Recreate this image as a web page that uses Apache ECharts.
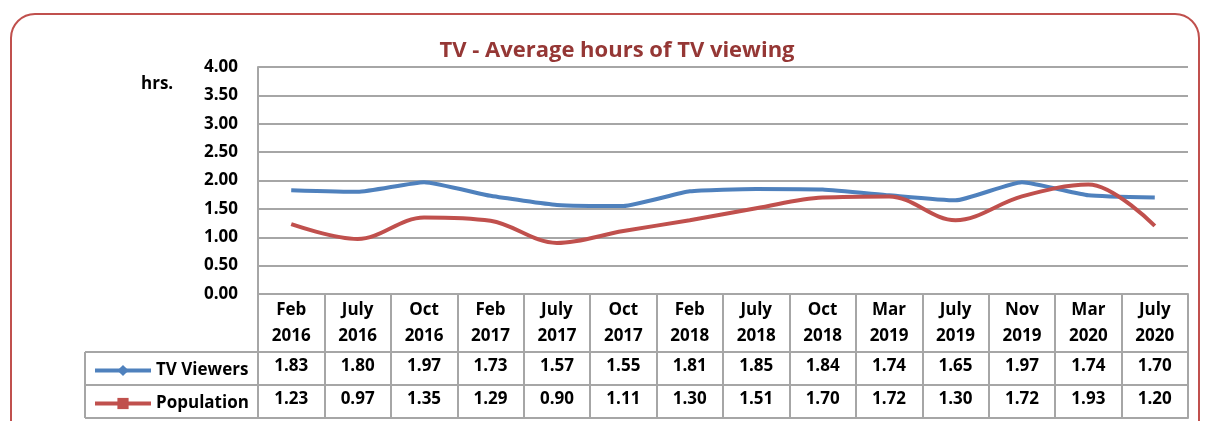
<!DOCTYPE html>
<html>
<head>
<meta charset="utf-8">
<script src="https://cdn.jsdelivr.net/npm/echarts@6/dist/echarts.min.js"></script>
<style>
  html, body { margin: 0; padding: 0; background: #fff; }
  #chart { width: 1208px; height: 421px; }
</style>
</head>
<body>
<div id="chart"></div>
<script>
// 数据
var categories = ['Feb 2016', 'July 2016', 'Oct 2016', 'Feb 2017', 'July 2017', 'Oct 2017', 'Feb 2018',
    'July 2018', 'Oct 2018', 'Mar 2019', 'July 2019', 'Nov 2019', 'Mar 2020', 'July 2020'];
var tvViewers = [1.83, 1.80, 1.97, 1.73, 1.57, 1.55, 1.81, 1.85, 1.84, 1.74, 1.65, 1.97, 1.74, 1.70];
var population = [1.23, 0.97, 1.35, 1.29, 0.90, 1.11, 1.30, 1.51, 1.70, 1.72, 1.30, 1.72, 1.93, 1.20];
var yTicks = [0, 0.5, 1, 1.5, 2, 2.5, 3, 3.5, 4];

(function () {
    var myChart = echarts.init(document.querySelector("#chart"));
    var font = '"Open Sans", Lato, sans-serif';
    var fs = 17;
    var gridColor = '#a6a6a6';
    var gl = 258, gr = 1188, gt = 67, gb = 294;
    var rowH = [58, 33, 33];

    function legendFor(name, top) {
        return {
            orient: 'horizontal',
            left: 88,
            top: top,
            itemWidth: 56,
            itemHeight: 14,
            itemGap: 4,
            lineStyle: { width: 4 },
            textStyle: { color: '#000', fontSize: fs, fontWeight: 'bold', fontFamily: font },
            data: [name]
        };
    }

    option = {
        animation: false,
        textStyle: { fontFamily: font },
        title: {
            text: 'TV - Average hours of TV viewing',
            left: 612,
            top: 35,
            textAlign: 'center',
            textStyle: { color: '#953735', fontSize: 22, fontWeight: 'bold', fontFamily: font }
        },
        legend: [
            legendFor('TV Viewers', 357),
            legendFor('Population', 390)
        ],
        grid: {
            left: gl,
            right: 1208 - gr,
            top: gt,
            bottom: 421 - gb,
            containLabel: false
        },
        xAxis: [
            {
                type: 'category',
                data: categories,
                boundaryGap: true,
                axisLine: { show: true, lineStyle: { color: gridColor, width: 2 } },
                axisTick: { show: true, length: rowH[0] + rowH[1] + rowH[2], lineStyle: { color: gridColor, width: 2 } },
                axisLabel: {
                    interval: 0,
                    margin: 3,
                    color: '#000',
                    fontSize: fs,
                    fontWeight: 'bold',
                    lineHeight: 26,
                    formatter: function (v) { return v.replace(' ', '\n'); }
                }
            },
            {
                type: 'category',
                data: categories,
                position: 'bottom',
                offset: rowH[0],
                axisLine: { show: true, lineStyle: { color: gridColor, width: 2 } },
                axisTick: { show: false },
                axisLabel: {
                    interval: 0,
                    margin: 6,
                    color: '#000',
                    fontSize: fs,
                    fontWeight: 'bold',
                    formatter: function (v, i) { return tvViewers[i].toFixed(2); }
                }
            },
            {
                type: 'category',
                data: categories,
                position: 'bottom',
                offset: rowH[0] + rowH[1],
                axisLine: { show: true, lineStyle: { color: gridColor, width: 2 } },
                axisTick: { show: false },
                axisLabel: {
                    interval: 0,
                    margin: 6,
                    color: '#000',
                    fontSize: fs,
                    fontWeight: 'bold',
                    formatter: function (v, i) { return population[i].toFixed(2); }
                }
            },
            {
                type: 'category',
                data: categories,
                position: 'bottom',
                offset: rowH[0] + rowH[1] + rowH[2],
                axisLine: { show: true, lineStyle: { color: gridColor, width: 2 } },
                axisTick: { show: false },
                axisLabel: { show: false }
            }
        ],
        yAxis: {
            type: 'value',
            min: yTicks[0],
            max: yTicks[yTicks.length - 1],
            interval: yTicks[1] - yTicks[0],
            axisLine: { show: true, lineStyle: { color: gridColor, width: 2 } },
            axisTick: { show: false },
            splitLine: { lineStyle: { color: gridColor, width: 2 } },
            axisLabel: {
                margin: 20,
                color: '#000',
                fontSize: fs,
                fontWeight: 'bold',
                formatter: function (v) { return v.toFixed(2); }
            }
        },
        series: [
            {
                name: 'TV Viewers',
                type: 'line',
                data: tvViewers,
                smooth: 0.15,
                symbol: 'diamond',
                symbolSize: 14,
                showSymbol: false,
                color: '#4f81bd',
                lineStyle: { width: 4 }
            },
            {
                name: 'Population',
                type: 'line',
                data: population,
                smooth: 0.35,
                symbol: 'rect',
                symbolSize: 13,
                showSymbol: false,
                color: '#c0504d',
                lineStyle: { width: 4 }
            }
        ],
        graphic: [
            {
                type: 'rect',
                shape: { x: 11, y: 14, width: 1188, height: 460, r: 24 },
                style: { fill: 'none', stroke: '#c0504d', lineWidth: 2 }
            },
            {
                type: 'text',
                left: 141,
                top: 76,
                style: { text: 'hrs.', fill: '#000', font: 'bold ' + fs + 'px ' + font }
            },
            {
                type: 'line',
                shape: { x1: 85, y1: gb + rowH[0], x2: gl, y2: gb + rowH[0] },
                style: { stroke: gridColor, lineWidth: 2 }
            },
            {
                type: 'line',
                shape: { x1: 85, y1: gb + rowH[0] + rowH[1], x2: gl, y2: gb + rowH[0] + rowH[1] },
                style: { stroke: gridColor, lineWidth: 2 }
            },
            {
                type: 'line',
                shape: { x1: 85, y1: gb + rowH[0] + rowH[1] + rowH[2], x2: gl, y2: gb + rowH[0] + rowH[1] + rowH[2] },
                style: { stroke: gridColor, lineWidth: 2 }
            },
            {
                type: 'line',
                shape: { x1: 85, y1: gb + rowH[0], x2: 85, y2: gb + rowH[0] + rowH[1] + rowH[2] },
                style: { stroke: gridColor, lineWidth: 2 }
            }
        ]
    };

    myChart.setOption(option);
    window.addEventListener("resize", function () {
        myChart.resize();
    });
})();
</script>
</body>
</html>
